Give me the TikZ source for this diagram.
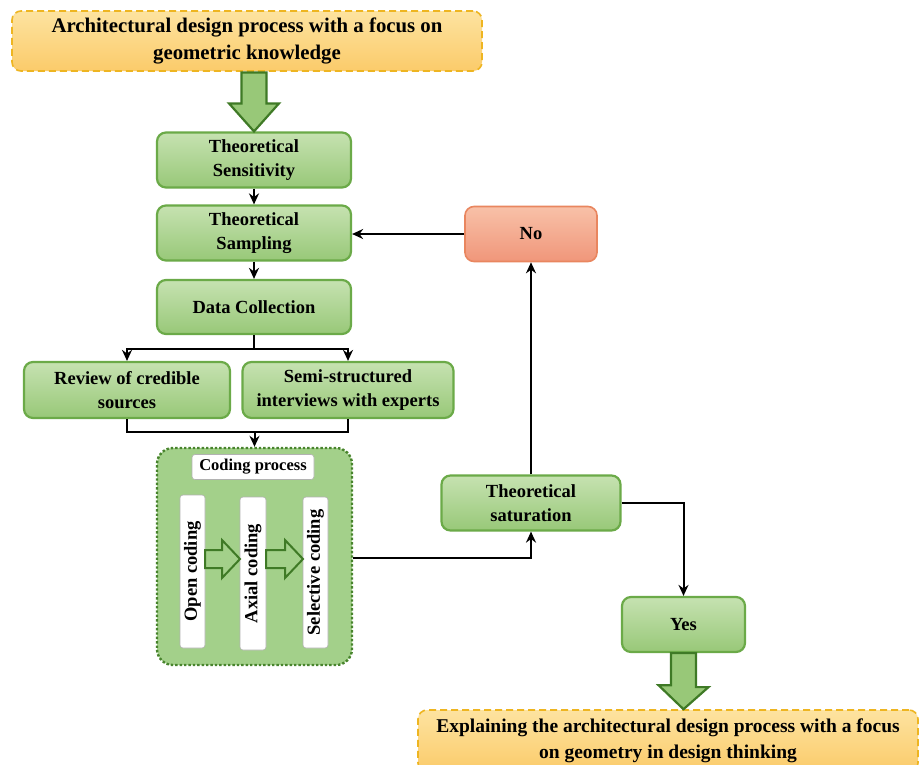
\documentclass[tikz,border=0pt]{standalone}
\usepackage{fontspec}
\setmainfont{Liberation Serif}
\usetikzlibrary{arrows.meta,calc}
\definecolor{gfillT}{HTML}{C6E2B1}
\definecolor{gfillB}{HTML}{98C878}
\definecolor{gborder}{HTML}{6BAA48}
\definecolor{darkg}{HTML}{3F7A26}
\definecolor{ofillT}{HTML}{FDE3A0}
\definecolor{ofillB}{HTML}{FBCB6A}
\definecolor{oborder}{HTML}{EEB521}
\definecolor{nfillT}{HTML}{F8C1A8}
\definecolor{nfillB}{HTML}{F0967A}
\definecolor{nborder}{HTML}{E9865F}
\definecolor{cfill}{HTML}{A3D08A}
\tikzset{
  gbox/.style={draw=gborder, line width=2.2pt, rounded corners=9pt, top color=gfillT, bottom color=gfillB,
    align=center, font=\fontsize{18.5}{24}\selectfont\bfseries, inner sep=0pt},
  obox/.style={draw=oborder, line width=1.6pt, dashed, dash pattern=on 7pt off 4pt, rounded corners=9pt,
    top color=ofillT, bottom color=ofillB, align=center, font=\fontsize{20.8}{27}\selectfont\bfseries, inner sep=0pt},
  nbox/.style={draw=nborder, line width=1.6pt, rounded corners=9pt, top color=nfillT, bottom color=nfillB,
    align=center, font=\fontsize{18.5}{24}\selectfont\bfseries, inner sep=0pt},
  wbox/.style={draw=gray!60, line width=0.6pt, fill=white, rounded corners=3pt, inner sep=0pt,
    font=\fontsize{16.5}{20}\selectfont\bfseries},
  vbox/.style={wbox, font=\fontsize{18.5}{20}\selectfont\bfseries, rotate=90},
  conn/.style={draw=black, line width=2pt, -{Stealth[length=11pt,width=10pt]}},
  line/.style={draw=black, line width=2pt},
  bigarrow/.style={draw=darkg, line width=2.2pt, fill=gfillB, line join=miter},
  hollow/.style={draw=darkg, line width=2pt, fill=cfill, line join=miter},
}
\begin{document}
\begin{tikzpicture}[x=1pt,y=-1pt]
\useasboundingbox (0,0) rectangle (923,764);
\fill[white] (0,0) rectangle (923,764);

% top and bottom boxes
\node[obox, minimum width=470pt, minimum height=60pt] (top) at (247,41)
  {Architectural design process with a focus on\\geometric knowledge};
\begin{scope}
\clip (0,0) rectangle (923,764);
\node[obox, font=\fontsize{19.5}{26}\selectfont\bfseries, minimum width=500pt, minimum height=62pt] (bot) at (668,741)
  {Explaining the architectural design process with a focus\\on geometry in design thinking};
\end{scope}

% main column
\node[gbox, minimum width=194pt, minimum height=55pt] (sens) at (254,160) {Theoretical\\Sensitivity};
\node[gbox, minimum width=194pt, minimum height=55pt] (samp) at (254,233) {Theoretical\\Sampling};
\node[gbox, minimum width=194pt, minimum height=54pt] (data) at (254,307) {Data Collection};
\node[gbox, minimum width=206pt, minimum height=56pt] (review) at (127,390) {Review of credible\\sources};
\node[gbox, minimum width=211pt, minimum height=56pt] (semi) at (348,390) {Semi-structured\\interviews with experts};

% coding container
\node[draw=darkg!80!gborder, line width=2.4pt, dotted, fill=cfill, rounded corners=16pt,
  minimum width=195pt, minimum height=217pt, inner sep=0pt] (coding) at (254.5,556.5) {};
\node[wbox, minimum width=122pt, minimum height=25pt] (clabel) at (253,467) {Coding process};
\node[vbox, minimum width=153pt, minimum height=25pt] (open) at (192.5,571.5) {Open coding};
\node[vbox, minimum width=153pt, minimum height=26pt] (axial) at (253,573.5) {Axial coding};
\node[vbox, minimum width=151pt, minimum height=25pt] (sel) at (315.5,572.5) {Selective coding};

% right side
\node[gbox, minimum width=179pt, minimum height=55pt] (sat) at (531,503) {Theoretical\\saturation};
\node[nbox, minimum width=132pt, minimum height=55pt] (no) at (531,234) {No};
\node[gbox, minimum width=123pt, minimum height=55pt] (yes) at (683.5,624.5) {Yes};

% big arrows
\path[bigarrow] ($(sens.north)+(-12.5,-59)$)
  -- ++(25,0) -- ++(0,31) -- ++(12.5,0) -- (sens.north) -- ++(-25,-28) -- ++(12.5,0) -- cycle;
\path[bigarrow] ($(yes.south)+(-12.5,0)$) -- ++(25,0) -- ++(0,34) -- ++(12.5,0) -- (bot.north -| yes.south)
  -- ++(-25,-24) -- ++(12.5,0) -- cycle;

% hollow arrows inside coding
\path[hollow] (205,550) -- (222,550) -- (222,540) -- (240,559) -- (222,578) -- (222,568) -- (205,568) -- cycle;
\path[hollow] (266,550) -- (285,550) -- (285,540) -- (303,559) -- (285,578) -- (285,568) -- (266,568) -- cycle;

% connectors
\path[conn] (sens) -- (samp);
\path[conn] (samp) -- (data);
\draw[line] (data.south) -- ++(0,14) coordinate (split);
\path[conn] (split) -| (review.north);
\path[conn] (split) -| (semi.north);
\coordinate (merge) at (coding.north |- 0,432);
\draw[line] (review.south) |- (merge);
\draw[line] (semi.south) |- (merge);
\path[conn] (merge) -- (coding.north);
\path[conn] (coding.east |- 0,558) -| (sat.south);
\path[conn] (sat.north) -- (no.south);
\path[conn] (no.west) -- (no.west -| samp.east);
\path[conn] (sat.east) -| (yes.north);
\end{tikzpicture}
\end{document}
